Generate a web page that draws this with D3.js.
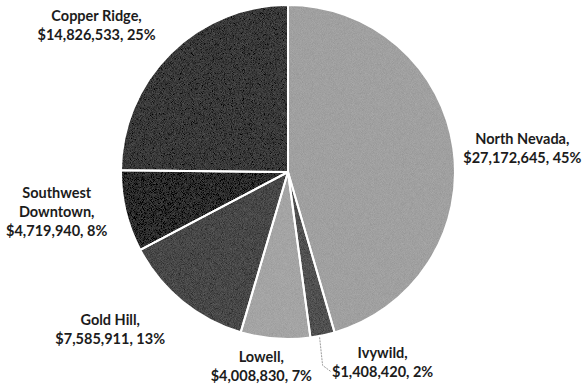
<!DOCTYPE html>
<html>
<head>
<meta charset="utf-8">
<script src="https://cdn.jsdelivr.net/npm/d3@7/dist/d3.min.js"></script>
<style>
  html, body { margin: 0; padding: 0; background: #ffffff; }
  svg { display: block; }
  .lbl { font-family: Lato, "Open Sans", sans-serif; font-weight: 700; font-size: 14.5px; fill: #1c1c1c; }
</style>
</head>
<body>
<svg id="chart" width="585" height="388"></svg>
<script>
// Revenue by district
const districts = ["North Nevada", "Ivywild", "Lowell", "Gold Hill", "Southwest Downtown", "Copper Ridge"];
const revenue = [27172645, 1408420, 4008830, 7585911, 4719940, 14826533];
const sliceFills = ["#a0a0a0", "#505050", "#a4a4a4", "#474747", "#2a2a2a", "#383838"];

// Label text broken into lines (the last line carries value and share)
const nameLines = [["North Nevada,"], ["Ivywild,"], ["Lowell,"], ["Gold Hill,"], ["Southwest", "Downtown,"], ["Copper Ridge,"]];

// Label block offsets from the slice's outer edge point
const labelShift = [[69, 0], [60, 27], [-14, 28], [-72, 28], [-69, 1], [-74, -28]];

const W = 585, H = 388;
const cx = 288, cy = 172, R = 167;
const lineH = 19;

const svg = d3.select("#chart");

// Fine grain on the slices (mean-neutral noise)
const defs = svg.append("defs");
const f = defs.append("filter").attr("id", "grain").attr("x", 0).attr("y", 0).attr("width", 1).attr("height", 1);
f.append("feTurbulence").attr("type", "fractalNoise").attr("baseFrequency", "1.1 1.8").attr("numOctaves", 1).attr("seed", 7).attr("result", "noise");
f.append("feColorMatrix").attr("in", "noise").attr("type", "matrix")
  .attr("values", "1 0 0 0 0  1 0 0 0 0  1 0 0 0 0  0 0 0 0 1").attr("result", "gray");
f.append("feComposite").attr("in", "SourceGraphic").attr("in2", "gray").attr("operator", "arithmetic")
  .attr("k1", 0).attr("k2", 1).attr("k3", 0.16).attr("k4", -0.08).attr("result", "mix");
f.append("feComposite").attr("in", "mix").attr("in2", "SourceGraphic").attr("operator", "in");

const data = districts.map((d, i) => ({ name: d, value: revenue[i], i }));
const total = d3.sum(revenue);

const pie = d3.pie().sort(null).value(d => d.value).startAngle(0).endAngle(2 * Math.PI);
const arcs = pie(data);
const arc = d3.arc().innerRadius(0).outerRadius(R);

const g = svg.append("g").attr("transform", `translate(${cx},${cy})`);

g.selectAll("path.slice")
  .data(arcs)
  .join("path")
  .attr("class", "slice")
  .attr("d", arc)
  .attr("fill", d => sliceFills[d.data.i])
  .attr("filter", "url(#grain)");

// White separators between slices
g.selectAll("path.sep")
  .data(arcs)
  .join("path")
  .attr("class", "sep")
  .attr("d", arc)
  .attr("fill", "none")
  .attr("stroke", "#ffffff")
  .attr("stroke-width", 2)
  .attr("stroke-linejoin", "round");

const money = d3.format("$,");
const pct = v => Math.round(v / total * 100) + "%";

function edgePoint(d) {
  const a = (d.startAngle + d.endAngle) / 2;
  return [Math.sin(a) * R, -Math.cos(a) * R];
}

// Leader line for the narrow Ivywild slice
const ivy = arcs[1];
const ep = edgePoint(ivy);
const lx = ep[0] + labelShift[1][0], ly = ep[1] + labelShift[1][1];
g.append("path")
  .attr("d", d3.line()([[ep[0] - 3, ep[1] + 2], [ep[0], ly + 3], [lx - 52, ly + 9]]))
  .attr("fill", "none")
  .attr("stroke", "#9a9a9a")
  .attr("stroke-width", 1)
  .attr("stroke-dasharray", "2,1");

// Data labels
arcs.forEach(d => {
  const i = d.data.i;
  const p = edgePoint(d);
  const x = p[0] + labelShift[i][0];
  const y = p[1] + labelShift[i][1];
  const lines = nameLines[i].concat([money(d.data.value) + ", " + pct(d.data.value)]);
  const top = y - (lines.length - 1) * lineH / 2;
  const t = g.append("text").attr("class", "lbl").attr("text-anchor", "middle");
  lines.forEach((s, k) => {
    t.append("tspan").attr("x", x).attr("y", top + k * lineH).attr("dy", "0.35em").text(s);
  });
});
</script>
</body>
</html>
